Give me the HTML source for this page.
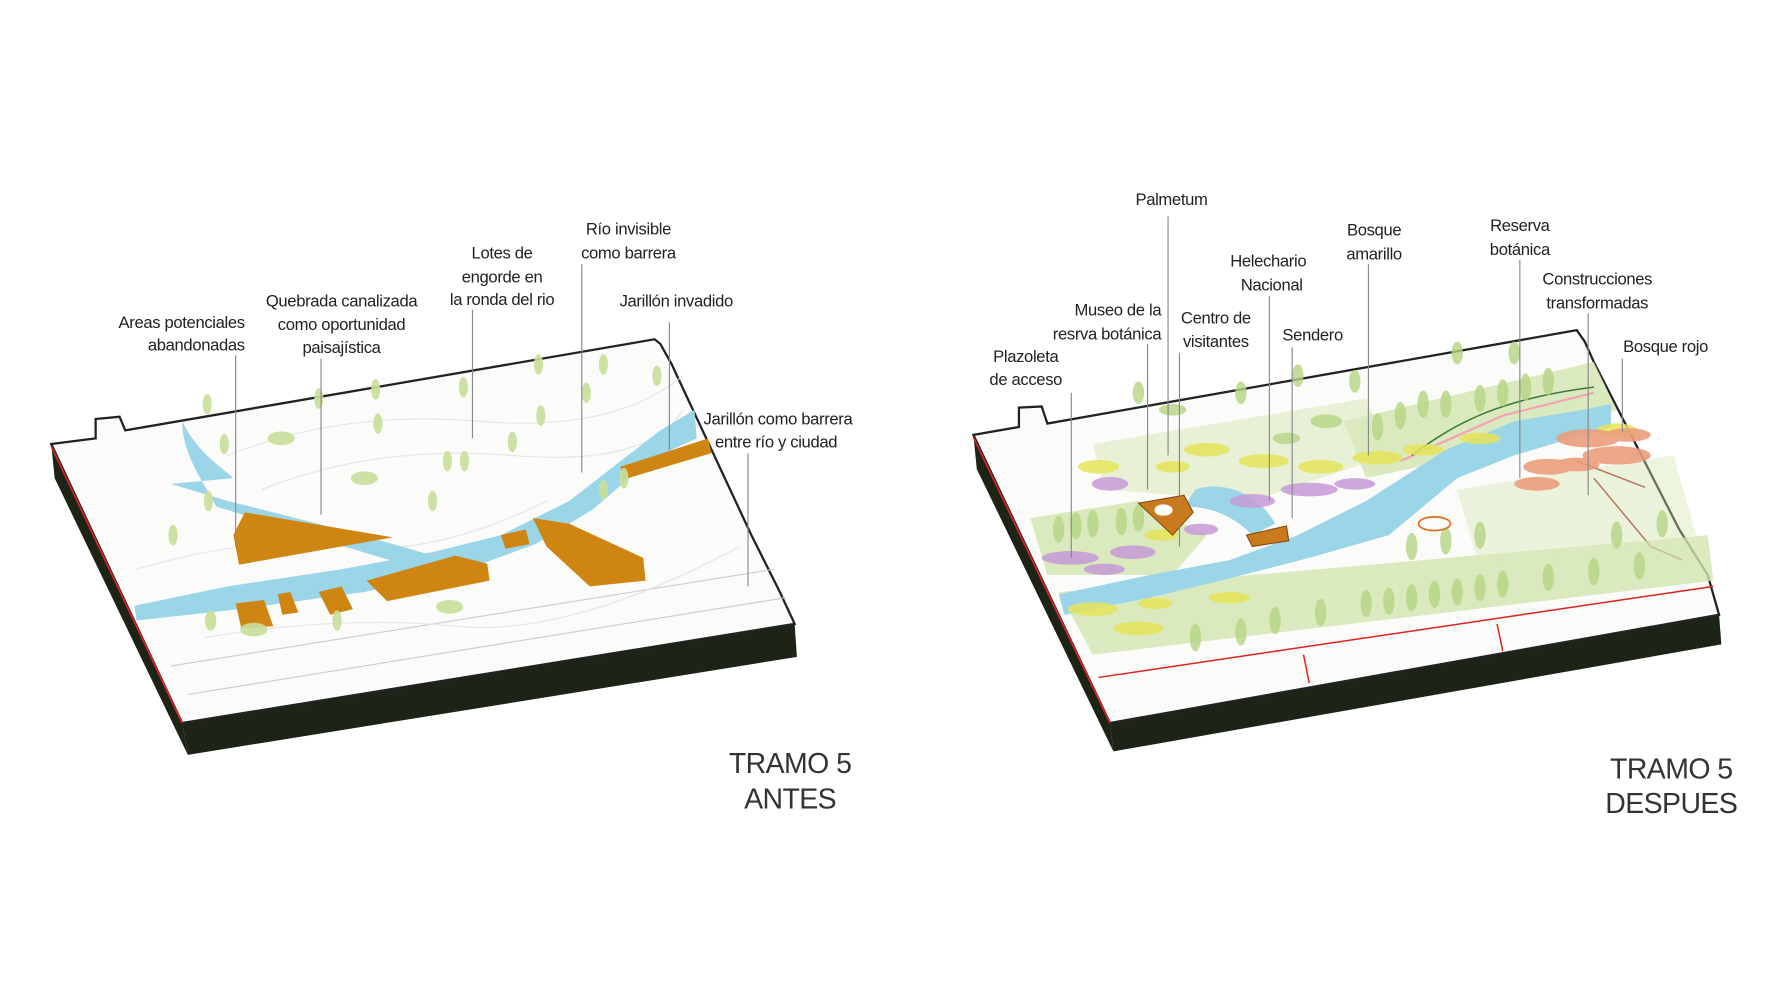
<!DOCTYPE html>
<html><head><meta charset="utf-8"><style>
html,body{margin:0;padding:0;background:#fff;}
svg{display:block;}
text{font-family:"Liberation Sans",sans-serif;font-size:14.6px;letter-spacing:-0.3px;fill:#222;}
.t{font-size:25px;letter-spacing:-0.5px;fill:#333;}
</style></head><body>
<svg width="1776" height="1006" viewBox="0 0 1560 883.6" preserveAspectRatio="none" xmlns="http://www.w3.org/2000/svg">
<rect width="1560" height="884" fill="#fff"/>

<!-- LEFT BLOCK -->
<polygon points="45,390 160,635 165,663 48,420" fill="#1c2418"/>
<polygon points="160,635 698,548 700,577 165,663" fill="#1c2418"/>
<polygon points="45,390 84,385 84,368 105,366 110,378 575,298 580,302 590,320 660,470 685,520 698,548 160,635" fill="#fbfbf9" stroke="#222" stroke-width="2"/>
<line x1="45" y1="392" x2="160" y2="635" stroke="#d22" stroke-width="1.5"/>
<line x1="165" y1="610" x2="690" y2="525" stroke="#ccc" stroke-width="1"/>
<line x1="150" y1="585" x2="680" y2="500" stroke="#ccc" stroke-width="1"/>
<g stroke="#e4e6e2" fill="none" stroke-width="1">
<path d="M200,400 Q300,360 420,370 T600,330"/><path d="M230,430 Q330,390 450,400 T600,360"/>
<path d="M120,500 Q220,470 300,480 T480,440"/><path d="M180,560 Q300,540 400,550 T650,480"/>
</g>
<path d="M118,532 L200,515 L300,500 L380,485 L440,470 L500,440 L545,405 L580,378 L610,360 L612,385 L590,395 L555,418 L520,448 L470,478 L410,500 L320,520 L210,535 L120,545 Z" fill="#9bd5e8"/>
<path d="M160,370 C175,400 195,410 205,420 L150,425 L200,440 C260,455 320,470 380,488 L370,500 C300,480 240,460 190,445 C180,425 160,400 160,370Z" fill="#9bd5e8"/>
<g fill="#cf8512">
<polygon points="215,450 345,472 210,496 205,470"/>
<polygon points="545,410 622,385 625,398 548,421"/>
<polygon points="468,455 500,460 565,490 567,510 518,515 480,480"/>
<polygon points="322,510 400,488 428,495 430,510 340,528"/>
<polygon points="280,520 300,515 310,535 290,540"/>
<polygon points="440,470 462,465 465,478 444,482"/>
<polygon points="207,530 232,527 240,550 212,552"/>
<polygon points="244,522 255,520 262,538 248,540"/>
</g>
<g fill="#c9df9a" opacity="0.9">
<ellipse cx="182" cy="355" rx="4" ry="9"/><ellipse cx="280" cy="350" rx="4" ry="9"/><ellipse cx="330" cy="342" rx="4" ry="9"/>
<ellipse cx="407" cy="340" rx="4" ry="9"/><ellipse cx="473" cy="320" rx="4" ry="9"/><ellipse cx="530" cy="320" rx="4" ry="9"/>
<ellipse cx="577" cy="330" rx="4" ry="9"/><ellipse cx="332" cy="372" rx="4" ry="9"/><ellipse cx="197" cy="390" rx="4" ry="9"/>
<ellipse cx="247" cy="385" rx="12" ry="6"/><ellipse cx="320" cy="420" rx="12" ry="6"/><ellipse cx="408" cy="405" rx="4" ry="9"/>
<ellipse cx="393" cy="405" rx="4" ry="9"/><ellipse cx="475" cy="365" rx="4" ry="9"/><ellipse cx="515" cy="345" rx="4" ry="9"/>
<ellipse cx="530" cy="430" rx="4" ry="9"/><ellipse cx="548" cy="420" rx="4" ry="9"/><ellipse cx="183" cy="440" rx="4" ry="9"/>
<ellipse cx="152" cy="470" rx="4" ry="9"/><ellipse cx="185" cy="545" rx="5" ry="9"/><ellipse cx="223" cy="553" rx="12" ry="6"/>
<ellipse cx="395" cy="533" rx="12" ry="6"/><ellipse cx="296" cy="545" rx="4" ry="9"/><ellipse cx="380" cy="440" rx="4" ry="9"/>
<ellipse cx="450" cy="388" rx="4" ry="9"/>
</g>
<g stroke="#888" stroke-width="1">
<line x1="207" y1="312" x2="207" y2="480"/><line x1="282" y1="315" x2="282" y2="452"/>
<line x1="415" y1="272" x2="415" y2="385"/><line x1="511" y1="232" x2="511" y2="415"/>
<line x1="588" y1="283" x2="588" y2="395"/><line x1="657" y1="398" x2="657" y2="515"/>
</g>
<text x="215" y="288" text-anchor="end">Areas potenciales</text>
<text x="215" y="308" text-anchor="end">abandonadas</text>
<text x="300" y="269" text-anchor="middle">Quebrada canalizada</text>
<text x="300" y="290" text-anchor="middle">como oportunidad</text>
<text x="300" y="310" text-anchor="middle">paisajística</text>
<text x="441" y="227" text-anchor="middle">Lotes de</text>
<text x="441" y="248" text-anchor="middle">engorde en</text>
<text x="441" y="268" text-anchor="middle">la ronda del rio</text>
<text x="552" y="206" text-anchor="middle">Río invisible</text>
<text x="552" y="227" text-anchor="middle">como barrera</text>
<text x="594" y="269" text-anchor="middle">Jarillón invadido</text>
<text x="618" y="373">Jarillón como barrera</text>
<text x="628" y="393">entre río y ciudad</text>
<text class="t" x="694" y="679" text-anchor="middle">TRAMO 5</text>
<text class="t" x="694" y="710" text-anchor="middle">ANTES</text>

<!-- RIGHT BLOCK -->
<polygon points="855,382 975,635 978,660 858,412" fill="#1c2418"/>
<polygon points="975,635 1510,540 1512,566 978,660" fill="#1c2418"/>
<polygon points="855,382 895,375 895,358 915,357 920,372 1385,290 1392,300 1400,318 1475,465 1500,505 1510,540 975,635" fill="#fbfbf9" stroke="#222" stroke-width="2"/>
<line x1="855" y1="384" x2="975" y2="635" stroke="#d22" stroke-width="1.5"/>
<polyline points="965,595 1505,515" stroke="#d22" stroke-width="1.3" fill="none"/>
<polyline points="1315,548 1320,572" stroke="#d22" stroke-width="1.3"/>
<polyline points="1145,575 1150,600" stroke="#d22" stroke-width="1.3"/>
<polyline points="1385,405 1445,428" stroke="#a22" stroke-width="1.3" fill="none"/>
<polyline points="1400,420 1450,480 1478,492" stroke="#a22" stroke-width="1.3" fill="none"/>
<g opacity="0.8" fill="#d3e6b0">
<path d="M1180,370 L1400,318 L1420,360 L1340,390 L1200,420Z"/>
<path d="M905,455 L1000,440 L1060,470 L1030,505 L920,505Z"/>
<path d="M930,520 L1500,470 L1505,510 L960,575Z"/>
<path d="M960,390 L1200,350 L1220,400 L1100,440 L970,430Z" opacity="0.6"/>
<path d="M1280,430 L1470,400 L1490,470 L1300,500Z" opacity="0.5"/>
</g>
<path d="M930,522 L1010,505 L1080,492 L1140,470 L1200,440 L1270,395 L1330,370 L1390,360 L1415,355 L1415,375 L1380,385 L1330,400 L1280,420 L1220,470 L1150,490 L1080,508 L1010,525 L935,540Z" fill="#9bd5e8"/>
<path d="M1050,430 C1080,420 1110,440 1120,460 L1100,470 C1080,450 1060,445 1040,445Z" fill="#9bd5e8"/>
<path d="M1230,405 L1320,365 L1400,345" stroke="#f2a6b4" stroke-width="2" fill="none"/>
<path d="M1240,400 C1280,370 1320,350 1400,340" stroke="#3b7a3b" stroke-width="1.3" fill="none"/>
<g>
<g fill="#e6e45a" opacity="0.85">
<ellipse cx="965" cy="410" rx="18" ry="6"/><ellipse cx="1060" cy="395" rx="20" ry="6"/><ellipse cx="1110" cy="405" rx="22" ry="6"/>
<ellipse cx="1160" cy="410" rx="20" ry="6"/><ellipse cx="1210" cy="402" rx="22" ry="6"/><ellipse cx="1030" cy="410" rx="15" ry="5"/>
<ellipse cx="1020" cy="470" rx="15" ry="5"/><ellipse cx="960" cy="535" rx="22" ry="6"/><ellipse cx="1015" cy="530" rx="15" ry="5"/>
<ellipse cx="1080" cy="525" rx="18" ry="5"/><ellipse cx="1000" cy="552" rx="22" ry="6"/><ellipse cx="1420" cy="378" rx="18" ry="6"/>
<ellipse cx="1250" cy="395" rx="18" ry="5"/><ellipse cx="1300" cy="385" rx="18" ry="5"/>
</g>
<g fill="#c79ad8" opacity="0.85">
<ellipse cx="975" cy="425" rx="16" ry="6"/><ellipse cx="1150" cy="430" rx="25" ry="6"/><ellipse cx="1100" cy="440" rx="20" ry="6"/>
<ellipse cx="940" cy="490" rx="25" ry="6"/><ellipse cx="995" cy="485" rx="20" ry="6"/><ellipse cx="1055" cy="465" rx="15" ry="5"/>
<ellipse cx="1190" cy="425" rx="18" ry="5"/><ellipse cx="970" cy="500" rx="18" ry="5"/>
</g>
<g fill="#ec9e7c" opacity="0.9">
<ellipse cx="1395" cy="385" rx="28" ry="8"/><ellipse cx="1420" cy="400" rx="30" ry="8"/><ellipse cx="1360" cy="410" rx="22" ry="7"/>
<ellipse cx="1350" cy="425" rx="20" ry="6"/><ellipse cx="1430" cy="382" rx="20" ry="6"/><ellipse cx="1385" cy="408" rx="20" ry="6"/>
</g>
<g fill="#b6d584" opacity="0.8">
<ellipse cx="1000" cy="345" rx="5" ry="10"/><ellipse cx="1090" cy="345" rx="5" ry="10"/><ellipse cx="1140" cy="330" rx="5" ry="10"/>
<ellipse cx="1190" cy="335" rx="5" ry="10"/><ellipse cx="1280" cy="310" rx="5" ry="10"/><ellipse cx="1330" cy="310" rx="5" ry="10"/>
<ellipse cx="1030" cy="360" rx="12" ry="5"/><ellipse cx="1165" cy="370" rx="14" ry="6"/><ellipse cx="1130" cy="385" rx="12" ry="5"/>
<ellipse cx="1250" cy="355" rx="5" ry="12"/><ellipse cx="1270" cy="355" rx="5" ry="12"/><ellipse cx="1300" cy="350" rx="5" ry="12"/>
<ellipse cx="1230" cy="365" rx="5" ry="12"/><ellipse cx="1210" cy="375" rx="5" ry="12"/><ellipse cx="1320" cy="345" rx="5" ry="12"/>
<ellipse cx="1340" cy="340" rx="5" ry="12"/><ellipse cx="1360" cy="335" rx="5" ry="12"/>
<ellipse cx="1200" cy="530" rx="5" ry="12"/><ellipse cx="1240" cy="525" rx="5" ry="12"/><ellipse cx="1280" cy="520" rx="5" ry="12"/>
<ellipse cx="1320" cy="513" rx="5" ry="12"/><ellipse cx="1360" cy="507" rx="5" ry="12"/><ellipse cx="1400" cy="502" rx="5" ry="12"/>
<ellipse cx="1440" cy="497" rx="5" ry="12"/><ellipse cx="1160" cy="538" rx="5" ry="12"/><ellipse cx="1120" cy="545" rx="5" ry="12"/>
<ellipse cx="1220" cy="528" rx="5" ry="12"/><ellipse cx="1260" cy="522" rx="5" ry="12"/><ellipse cx="1300" cy="516" rx="5" ry="12"/>
<ellipse cx="1270" cy="475" rx="5" ry="12"/><ellipse cx="1300" cy="470" rx="5" ry="12"/><ellipse cx="1240" cy="480" rx="5" ry="12"/>
<ellipse cx="1090" cy="555" rx="5" ry="12"/><ellipse cx="1050" cy="560" rx="5" ry="12"/><ellipse cx="930" cy="465" rx="5" ry="12"/>
<ellipse cx="960" cy="460" rx="5" ry="12"/><ellipse cx="1460" cy="460" rx="5" ry="12"/><ellipse cx="1420" cy="470" rx="5" ry="12"/>
<ellipse cx="945" cy="462" rx="5" ry="12"/><ellipse cx="985" cy="458" rx="5" ry="12"/><ellipse cx="1000" cy="455" rx="5" ry="12"/>
</g>
</g>
<path d="M1000,442 L1040,435 L1048,450 L1030,470 Z" fill="#c97a1c" stroke="#8a4d10" stroke-width="1"/>
<ellipse cx="1022" cy="448" rx="8" ry="5" fill="#fff"/>
<path d="M1095,470 L1130,462 L1132,475 L1100,480Z" fill="#c97a1c" stroke="#8a4d10" stroke-width="1"/>
<ellipse cx="1260" cy="460" rx="14" ry="6" fill="none" stroke="#e07020" stroke-width="1.5"/>
<g stroke="#888" stroke-width="1">
<line x1="1026" y1="190" x2="1026" y2="400"/><line x1="1202" y1="232" x2="1202" y2="400"/>
<line x1="1335" y1="228" x2="1335" y2="420"/><line x1="1115" y1="260" x2="1115" y2="440"/>
<line x1="1395" y1="275" x2="1395" y2="435"/><line x1="1008" y1="302" x2="1008" y2="430"/>
<line x1="1036" y1="310" x2="1036" y2="480"/><line x1="1135" y1="305" x2="1135" y2="455"/>
<line x1="941" y1="345" x2="941" y2="490"/><line x1="1425" y1="315" x2="1425" y2="380"/>
</g>
<text x="1029" y="180" text-anchor="middle">Palmetum</text>
<text x="1207" y="207" text-anchor="middle">Bosque</text>
<text x="1207" y="228" text-anchor="middle">amarillo</text>
<text x="1335" y="203" text-anchor="middle">Reserva</text>
<text x="1335" y="224" text-anchor="middle">botánica</text>
<text x="1114" y="234" text-anchor="middle">Helechario</text>
<text x="1117" y="255" text-anchor="middle">Nacional</text>
<text x="1403" y="250" text-anchor="middle">Construcciones</text>
<text x="1403" y="271" text-anchor="middle">transformadas</text>
<text x="1020" y="277" text-anchor="end">Museo de la</text>
<text x="1020" y="298" text-anchor="end">resrva botánica</text>
<text x="1068" y="284" text-anchor="middle">Centro de</text>
<text x="1068" y="305" text-anchor="middle">visitantes</text>
<text x="1153" y="299" text-anchor="middle">Sendero</text>
<text x="901" y="318" text-anchor="middle">Plazoleta</text>
<text x="901" y="338" text-anchor="middle">de acceso</text>
<text x="1463" y="309" text-anchor="middle">Bosque rojo</text>
<text class="t" x="1468" y="684" text-anchor="middle">TRAMO 5</text>
<text class="t" x="1468" y="714" text-anchor="middle">DESPUES</text>
</svg>
</body></html>
